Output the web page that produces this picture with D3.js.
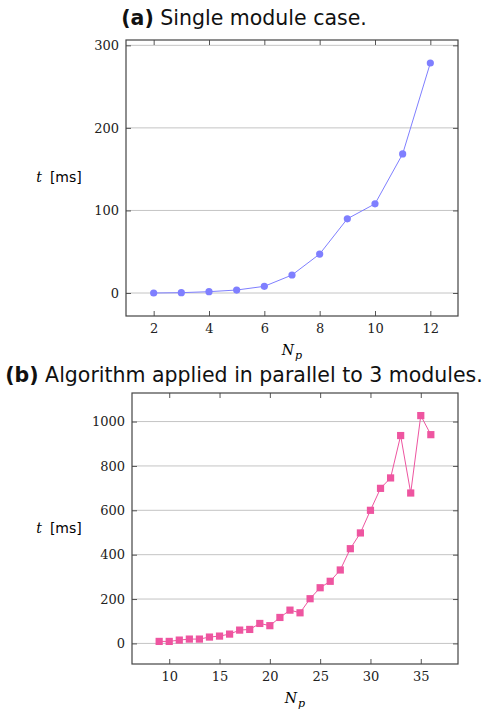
<!DOCTYPE html>
<html>
<head>
<meta charset="utf-8">
<script src="https://cdn.jsdelivr.net/npm/d3@7"></script>
<style>
  body { margin: 0; background: #fff; }
  .tick text { font-family: "DejaVu Serif", serif; font-size: 13px; fill: #222; }
  .title { font-family: "DejaVu Sans", sans-serif; font-size: 20.5px; fill: #111; }
</style>
</head>
<body>
<svg width="488" height="713"></svg>
<script>
// (a) single module
var npA = [2, 3, 4, 5, 6, 7, 8, 9, 10, 11, 12];
var tA = [0, 0.4, 1.6, 3.6, 8.1, 21.8, 47.2, 89.9, 108, 168.5, 278.6];
var yTicksA = [0, 100, 200, 300];
var xTicksA = [2, 4, 6, 8, 10, 12];

// (b) parallel, 3 modules
var npB = [9, 10, 11, 12, 13, 14, 15, 16, 17, 18, 19, 20, 21, 22, 23, 24, 25, 26, 27, 28, 29, 30, 31, 32, 33, 34, 35, 36];
var tB = [9, 9, 15, 19.5, 19.5, 28.6, 33, 42, 60, 63, 90, 80, 117, 150, 138, 201.5, 251, 280, 331, 427, 498, 600, 699, 746, 937, 678, 1027, 941];
var yTicksB = [0, 200, 400, 600, 800, 1000];
var xTicksB = [10, 15, 20, 25, 30, 35];

var titles = [["(a)", " Single module case."], ["(b)", " Algorithm applied in parallel to 3 modules."]];

var svg = d3.select("svg");

// pgfplots-style 10% enlargement
function padded(ext) {
  var p = (ext[1] - ext[0]) * 0.1;
  return [ext[0] - p, ext[1] + p];
}

function drawPanel(opt) {
  var g = svg.append("g").attr("transform", `translate(${opt.left}, ${opt.top})`);
  var w = opt.width, h = opt.height;

  var x = d3.scaleLinear().domain(padded(d3.extent(opt.xs))).range([0, w]);
  var y = d3.scaleLinear().domain(padded(d3.extent(opt.ys))).range([h, 0]);
  var fmt = d3.format("d");

  // grid
  g.append("g").selectAll("line")
      .data(opt.yTicks)
    .enter().append("line")
      .attr("x1", 0).attr("x2", w)
      .attr("y1", d => y(d)).attr("y2", d => y(d))
      .attr("stroke", "#c4c4c4").attr("stroke-width", 1);

  // axes with inward ticks
  var axes = [
    [d3.axisBottom(x).tickValues(opt.xTicks).tickFormat(fmt).tickSizeInner(-5).tickSizeOuter(0).tickPadding(8), `translate(0,${h})`, true],
    [d3.axisTop(x).tickValues(opt.xTicks).tickSizeInner(-5).tickSizeOuter(0), "translate(0,0)", false],
    [d3.axisLeft(y).tickValues(opt.yTicks).tickFormat(fmt).tickSizeInner(-5).tickSizeOuter(0).tickPadding(7), "translate(0,0)", true],
    [d3.axisRight(y).tickValues(opt.yTicks).tickSizeInner(-5).tickSizeOuter(0), `translate(${w},0)`, false]
  ];
  axes.forEach(function(a) {
    var ax = g.append("g").attr("transform", a[1]).call(a[0]);
    ax.select(".domain").remove();
    ax.selectAll(".tick line").attr("stroke", "#555");
    if (!a[2]) ax.selectAll(".tick text").remove();
  });

  g.append("rect")
      .attr("width", w).attr("height", h)
      .attr("fill", "none").attr("stroke", "#444").attr("stroke-width", 1.2);

  var pts = opt.xs.map((d, i) => [d, opt.ys[i]]);
  g.append("path")
      .attr("d", d3.line().x(d => x(d[0])).y(d => y(d[1]))(pts))
      .attr("fill", "none").attr("stroke", opt.color).attr("stroke-width", 1);

  if (opt.marker === "circle") {
    g.selectAll(".pt").data(pts).enter().append("circle")
        .attr("cx", d => x(d[0])).attr("cy", d => y(d[1])).attr("r", 3.6)
        .attr("fill", opt.color);
  } else {
    g.selectAll(".pt").data(pts).enter().append("rect")
        .attr("x", d => x(d[0]) - 3.6).attr("y", d => y(d[1]) - 3.6)
        .attr("width", 7.2).attr("height", 7.2)
        .attr("fill", opt.color);
  }

  // axis labels
  var xl = g.append("text")
      .attr("x", w / 2).attr("y", h + 39)
      .attr("text-anchor", "middle")
      .attr("font-family", "DejaVu Serif, serif").attr("font-style", "italic").attr("font-size", 14);
  xl.append("tspan").text("N");
  xl.append("tspan").attr("dy", 4).attr("dx", 1).attr("font-size", 11).text("p");

  var yl = g.append("text")
      .attr("x", opt.ylabX).attr("y", h / 2 + 4)
      .attr("text-anchor", "middle").attr("font-size", 14);
  yl.append("tspan").attr("font-family", "DejaVu Serif, serif").attr("font-style", "italic").text("t");
  yl.append("tspan").attr("font-family", "DejaVu Sans, sans-serif").attr("dx", 8).text("[ms]");
}

function drawTitle(t, yPos) {
  var tx = svg.append("text").attr("class", "title")
      .attr("x", 244).attr("y", yPos).attr("text-anchor", "middle");
  tx.append("tspan").attr("font-weight", "bold").text(t[0]);
  tx.append("tspan").text(t[1]);
}

drawTitle(titles[0], 25);
drawPanel({left: 126, top: 40, width: 332, height: 276, xs: npA, ys: tA,
  xTicks: xTicksA, yTicks: yTicksA, color: "#7f7fff", marker: "circle", ylabX: -67});

drawTitle(titles[1], 382);
drawPanel({left: 132, top: 393, width: 326, height: 271, xs: npB, ys: tB,
  xTicks: xTicksB, yTicks: yTicksB, color: "#ee55a0", marker: "square", ylabX: -73});
</script>
</body>
</html>
